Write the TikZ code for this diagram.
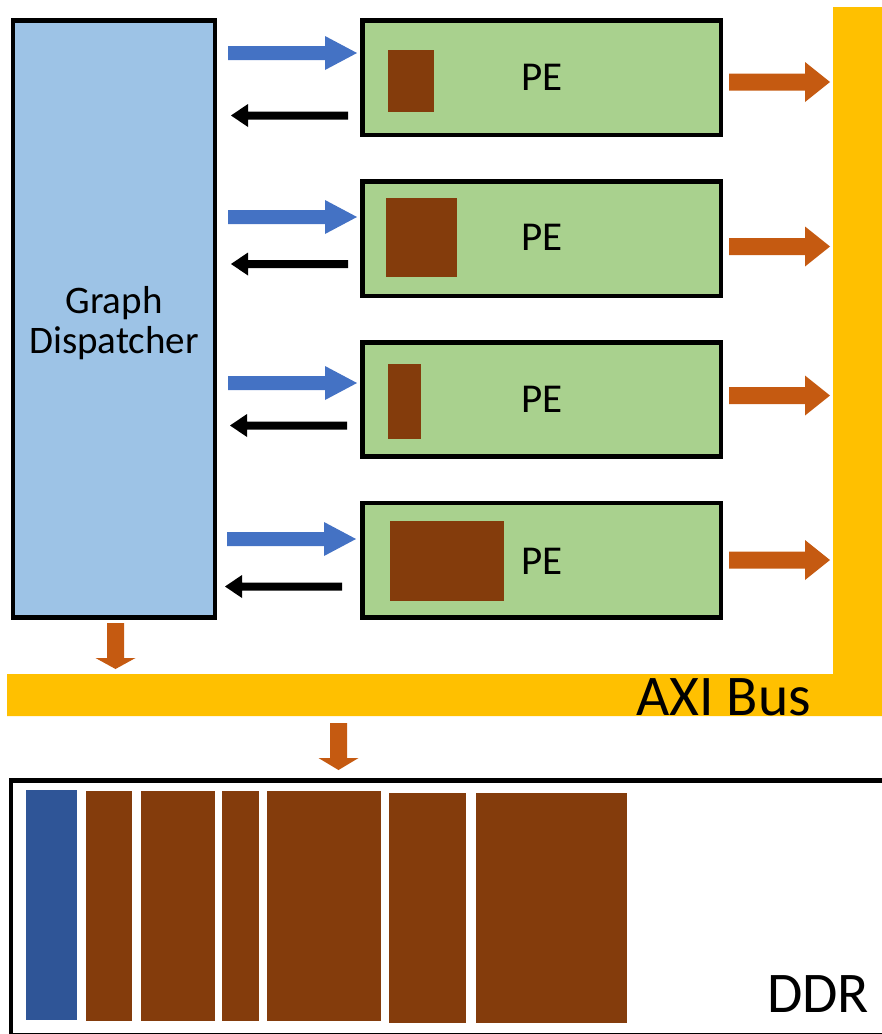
\documentclass[tikz,border=0pt]{standalone}
\usepackage{fontspec}
\setmainfont{Carlito}
\definecolor{dispblue}{HTML}{9DC3E6}
\definecolor{pegreen}{HTML}{A9D18E}
\definecolor{brownblk}{HTML}{843C0C}
\definecolor{arrblue}{HTML}{4472C4}
\definecolor{arrorange}{HTML}{C55A11}
\definecolor{busyellow}{HTML}{FFC000}
\definecolor{ddrblue}{HTML}{2F5597}
% horizontal block arrow: color, x tail, x head base, x tip, y, shaft half, head half
\newcommand{\blockH}[7]{\fill[#1] (#2,{#5-#6}) -- (#3,{#5-#6}) -- (#3,{#5-#7}) -- (#4,#5) -- (#3,{#5+#7}) -- (#3,{#5+#6}) -- (#2,{#5+#6}) -- cycle;}
% vertical block arrow: color, y tail, y head base, y tip, x, shaft half, head half
\newcommand{\blockV}[7]{\fill[#1] ({#5-#6},#2) -- ({#5-#6},#3) -- ({#5-#7},#3) -- (#5,#4) -- ({#5+#7},#3) -- ({#5+#6},#3) -- ({#5+#6},#2) -- cycle;}
\begin{document}
\begin{tikzpicture}[x=1pt,y=-1pt,
  boxstyle/.style={draw=black, line width=4.5pt, inner sep=0pt, outer sep=0pt, anchor=north west},
  petext/.style={anchor=base west, inner sep=0pt, font=\fontsize{41}{41}\selectfont},
  disptext/.style={anchor=base, inner sep=0pt, font=\fontsize{39}{39}\selectfont},
  bigtext/.style={anchor=base west, inner sep=0pt, font=\fontsize{57.5}{57.5}\selectfont}]
\path[use as bounding box] (0,0) rectangle (882,1034);
\clip (0,0) rectangle (882,1034);

% AXI bus
\fill[busyellow] (7,674) -- (833,674) -- (833,7) -- (882,7) -- (882,716) -- (7,716) -- cycle;
\node[bigtext] (axi) at (636,715) {AXI Bus};

% Graph dispatcher
\node[boxstyle, fill=dispblue, minimum width=202pt, minimum height=597pt] (disp) at (13,20.5) {};
\node[disptext] (g1) at (114,313) {Graph};
\node[disptext] (g2) at (114,353) {Dispatcher};

% PEs
\node[boxstyle, fill=pegreen, minimum width=358.5pt, minimum height=114.3pt] (pe1) at (362.3,20.5) {};
\node[boxstyle, fill=pegreen, minimum width=358.5pt, minimum height=114.5pt] (pe2) at (362.3,181.3) {};
\node[boxstyle, fill=pegreen, minimum width=358.5pt, minimum height=114.2pt] (pe3) at (362.3,342.5) {};
\node[boxstyle, fill=pegreen, minimum width=358.5pt, minimum height=114.3pt] (pe4) at (362.3,503.2) {};
\fill[brownblk] (388,50) rectangle (434,112);
\fill[brownblk] (386,198) rectangle (457,277);
\fill[brownblk] (388,364) rectangle (421,439);
\fill[brownblk] (390,521) rectangle (504,601);
\node[petext] (t1) at (521,90.7) {PE};
\node[petext] (t2) at (521,250.7) {PE};
\node[petext] (t3) at (521,412) {PE};
\node[petext] (t4) at (521,574) {PE};

% blue arrows dispatcher -> PE
\blockH{arrblue}{228}{325}{357}{53}{7}{17}
\blockH{arrblue}{228}{325}{357}{217}{7}{17}
\blockH{arrblue}{228}{325}{357}{383}{7}{17}
\blockH{arrblue}{227}{324}{356}{539}{7}{17}

% black arrows PE -> dispatcher
\blockH{black}{348}{248}{231}{115.5}{4}{11.5}
\blockH{black}{348}{248}{231}{264}{4}{11.5}
\blockH{black}{347}{247}{230}{425.5}{4}{11.5}
\blockH{black}{342}{242}{225}{586.5}{4}{11.5}

% orange arrows PE -> bus
\blockH{arrorange}{729}{805}{830}{82}{8.5}{20}
\blockH{arrorange}{729}{805}{830}{246.5}{8.5}{20}
\blockH{arrorange}{729}{805}{830}{395.5}{8.5}{20}
\blockH{arrorange}{729}{805}{830}{560}{8.5}{20}

% down arrows
\blockV{arrorange}{623}{658}{669}{115.5}{8.5}{20}
\blockV{arrorange}{723}{758}{770}{338.5}{8.5}{20}

% DDR
\node[boxstyle, fill=white, minimum width=890pt, minimum height=254.5pt] (ddr) at (11,780.5) {};
\fill[ddrblue] (26,790) rectangle (77,1020);
\fill[brownblk] (86,791) rectangle (132,1021);
\fill[brownblk] (141,791) rectangle (215,1021);
\fill[brownblk] (222,791) rectangle (259,1021);
\fill[brownblk] (267,791) rectangle (381,1021);
\fill[brownblk] (389,793) rectangle (466,1023);
\fill[brownblk] (476,793) rectangle (627,1023);
\node[bigtext] (ddrt) at (767,1012) {DDR};
\end{tikzpicture}
\end{document}
